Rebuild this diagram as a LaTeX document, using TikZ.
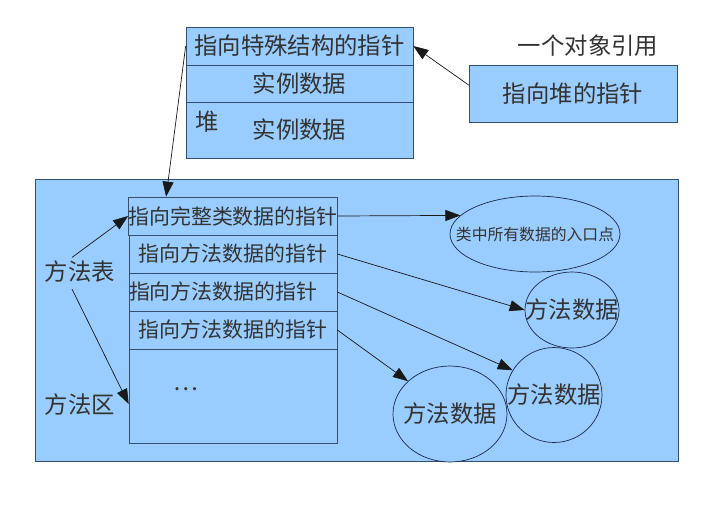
\documentclass[tikz,border=0pt]{standalone}
\usepackage{fontspec}
\setmainfont{Noto Sans CJK SC}
\usetikzlibrary{shapes.geometric,arrows.meta}
\definecolor{boxblue}{HTML}{99CCFF}
\definecolor{edgegrey}{HTML}{34506E}
\definecolor{inkgrey}{HTML}{333333}
\definecolor{ringblue}{HTML}{1B2A4A}

\begin{document}
\begin{tikzpicture}[x=0.02cm,y=-0.02cm,
        cell/.style={shape=rectangle,draw=edgegrey,fill=boxblue,inner sep=0pt,text=inkgrey},
        big/.style={font=\fontsize{13.3}{16}\selectfont,text=inkgrey},
        small/.style={font=\fontsize{11.9}{14}\selectfont},
        ring/.style={shape=ellipse,draw=ringblue,fill=boxblue,inner xsep=-0.5cm,inner ysep=0pt,text=inkgrey},
        link/.style={draw=black!90,-{Triangle[length=0.3cm,width=0.22cm]}}]
    \useasboundingbox (0,0) rectangle (711,525);

    % method area
    \node[cell,minimum width=12.86cm,minimum height=5.64cm] (area) at (356.5,320) {};

    % heap object
    \node[cell,big,minimum width=4.54cm,minimum height=0.76cm] (heap1) at (299.5,46) {指向特殊结构的指针};
    \node[cell,big,minimum width=4.54cm,minimum height=0.74cm] (heap2) at (299.5,83.5) {实例数据};
    \node[cell,big,minimum width=4.54cm,minimum height=1.12cm] (heap3) at (299.5,130) {实例数据};
    \node[big] (heaplabel) at (207,122) {堆};

    % reference
    \node[big] (reflabel) at (588,46) {一个对象引用};
    \node[cell,big,minimum width=4.16cm,minimum height=1.14cm] (ref) at (573,93.5) {指向堆的指针};

    % method table
    \node[cell,small,minimum width=4.16cm,minimum height=0.76cm] (mrow1) at (233,216) {指向完整类数据的指针};
    \node[cell,small,minimum width=4.16cm,minimum height=0.76cm] (mrow2) at (233,254) {指向方法数据的指针};
    \node[cell,small,minimum width=4.16cm,minimum height=0.76cm,text width=4.16cm,align=left] (mrow3) at (233,292) {指向方法数据的指针};
    \node[cell,small,minimum width=4.16cm,minimum height=0.76cm] (mrow4) at (233,330) {指向方法数据的指针};
    \node[cell,minimum width=4.16cm,minimum height=1.88cm] (mrow5) at (233,396) {};
    \node[big] (dots) at (186,389) {…};

    \node[big] (tablelabel) at (80,272) {方法表};
    \node[big] (arealabel) at (80,405) {方法区};

    % method data
    \node[ring,font=\fontsize{9}{11}\selectfont,minimum width=3.4cm,minimum height=1.52cm] (entry) at (535,234) {类中所有数据的入口点};
    \node[ring,big,minimum width=1.88cm,minimum height=1.52cm] (mdata1) at (572,310) {方法数据};
    \node[ring,big,minimum width=1.92cm,minimum height=1.9cm] (mdata2) at (554,395) {方法数据};
    \node[ring,big,minimum width=2.28cm,minimum height=1.92cm] (mdata3) at (450,414) {方法数据};

    \path [link] ([yshift=0.17cm]ref.west) -- (heap1.east);
    \path [link] (heap1.west) -- ([xshift=0.76cm]mrow1.north west);
    \path [link] ([xshift=-0.16cm,yshift=-0.05cm]tablelabel.north) -- (mrow1.west);
    \path [link] ([xshift=-0.16cm]tablelabel.south) -- ([yshift=-0.16cm]mrow5.west);
    \path [link] (mrow1.east) -- (entry.166);
    \path [link] (mrow2.east) -- (mdata1.west);
    \path [link] (mrow3.east) -- (mdata2.149);
    \path [link] (mrow4.east) -- (mdata3.142);
\end{tikzpicture}
\end{document}
